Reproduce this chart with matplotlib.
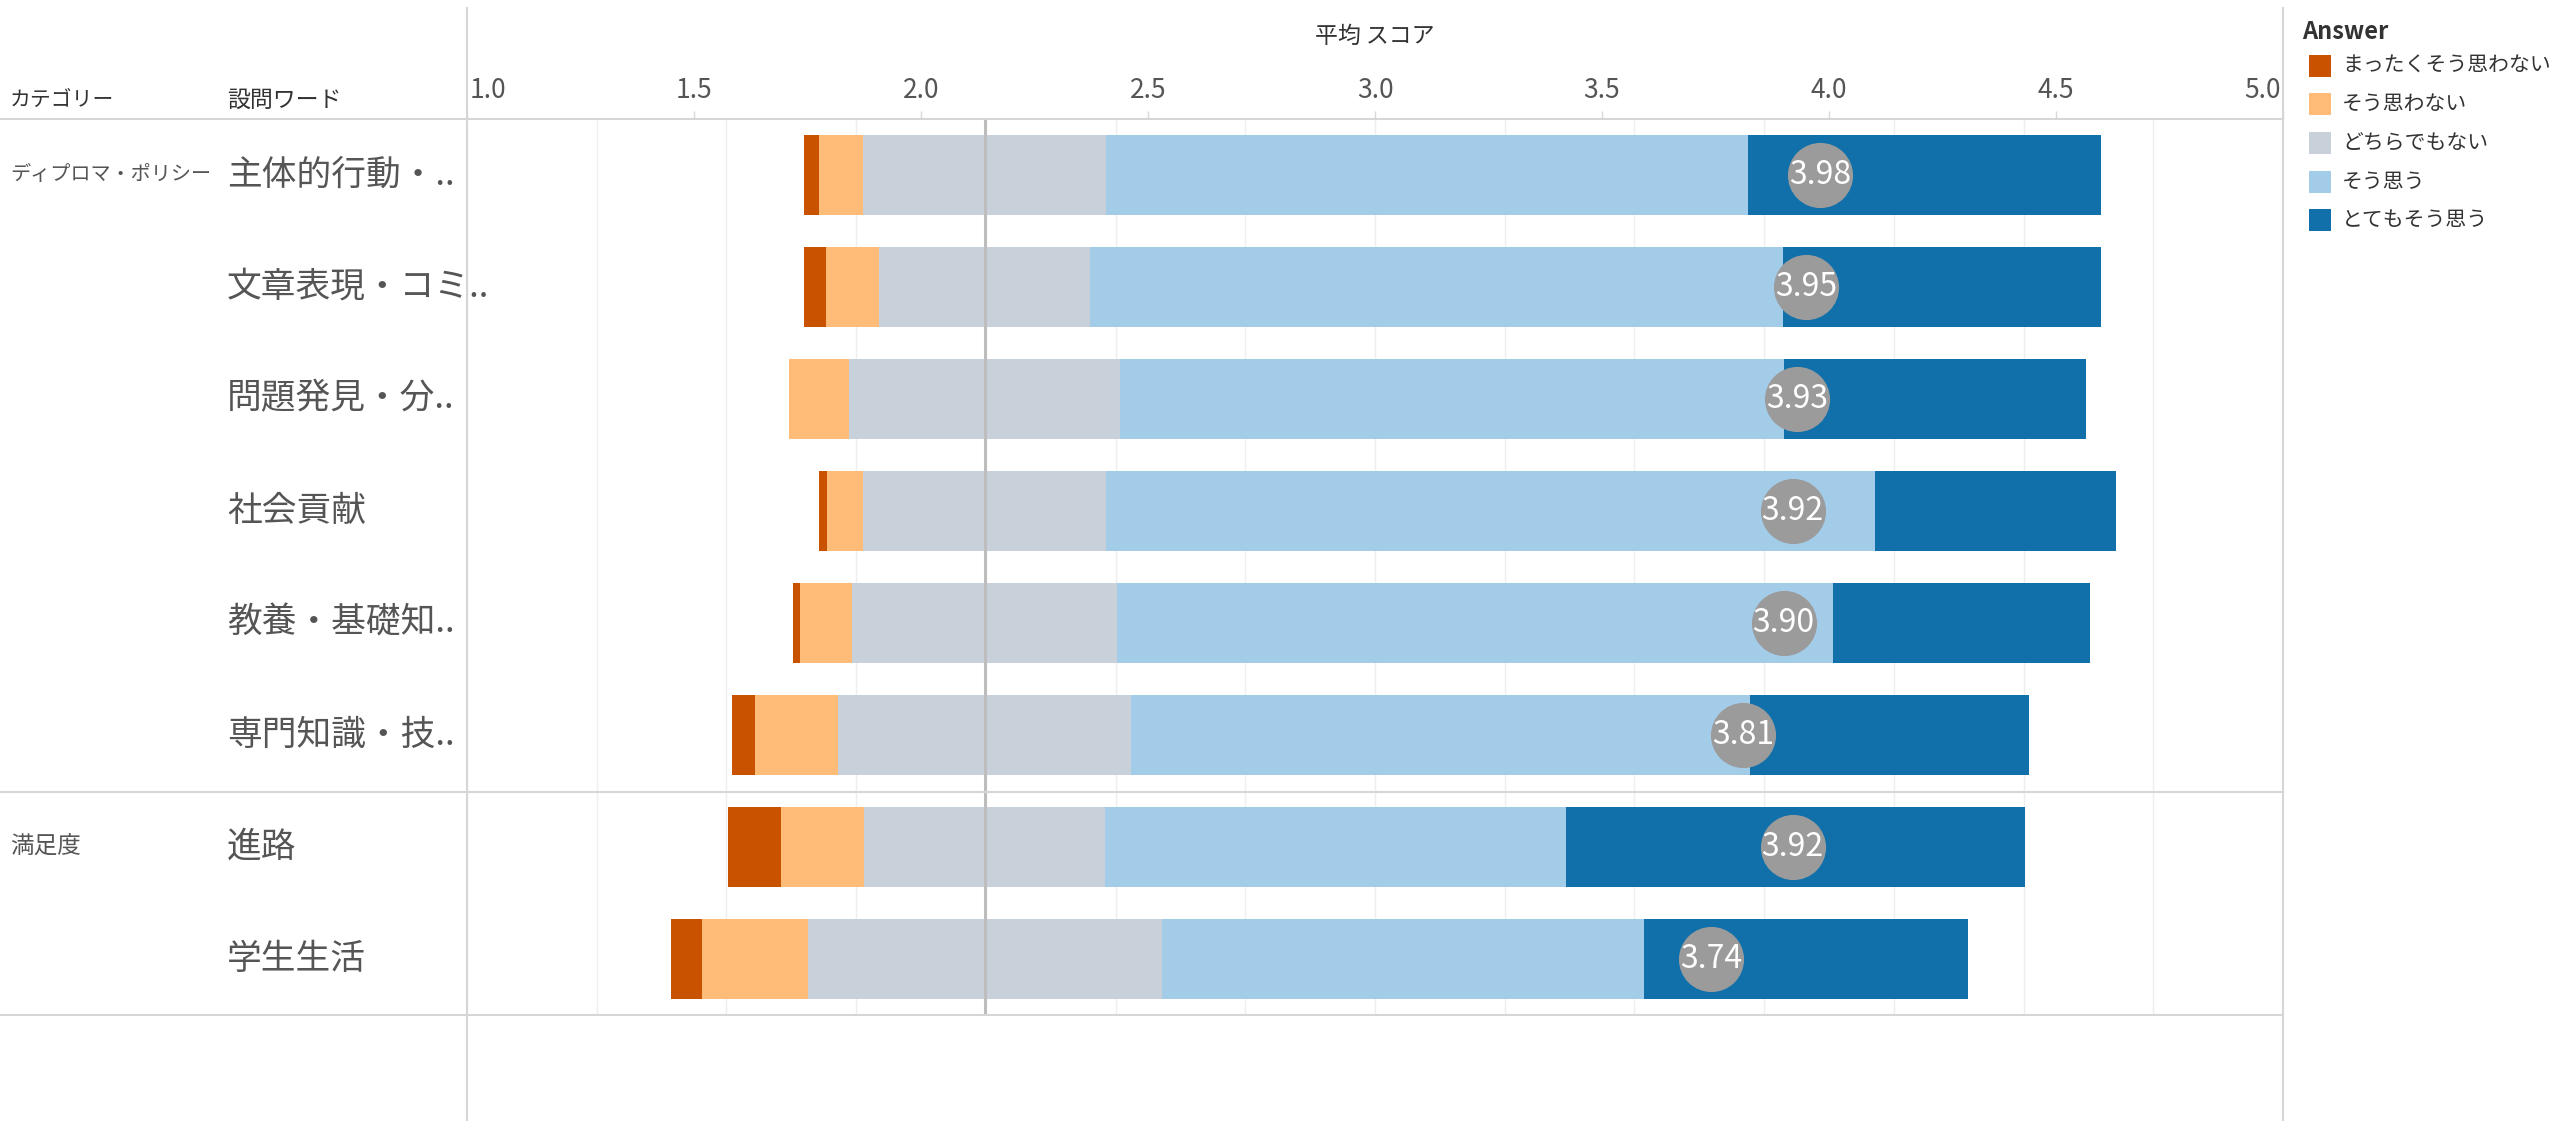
import numpy as np
from matplotlib import pyplot as plt
from matplotlib.lines import Line2D
from matplotlib.patches import Rectangle
from matplotlib.transforms import blended_transform_factory

plt.rcParams['font.family'] = ['Noto Sans CJK JP', 'DejaVu Sans']

# 回答カテゴリ (凡例の順)
answers = ['まったくそう思わない', 'そう思わない', 'どちらでもない', 'そう思う', 'とてもそう思う']
colors = ['#c85200', '#ffbc79', '#c8d0d9', '#a3cce9', '#1170aa']

# 行ラベル
categories = ['ディプロマ・ポリシー', '満足度']
category_rows = [0, 6]
questions = ['主体的行動・..', '文章表現・コミ..', '問題発見・分..', '社会貢献',
             '教養・基礎知..', '専門知識・技..', '進路', '学生生活']

# 各回答の割合 (%)
p_strong_no = [1.2, 1.7, 0.0, 0.6, 0.6, 1.8, 4.1, 2.4]
p_no = [3.4, 4.1, 4.6, 2.8, 4.0, 6.4, 6.4, 8.1]
p_neutral = [18.7, 16.3, 20.9, 18.7, 20.4, 22.6, 18.6, 27.3]
p_yes = [49.5, 53.4, 51.2, 59.3, 55.2, 47.7, 35.5, 37.2]
p_strong_yes = [27.2, 24.5, 23.3, 18.6, 19.8, 21.5, 35.4, 25.0]

# 平均スコア
means = [3.98, 3.95, 3.93, 3.92, 3.90, 3.81, 3.92, 3.74]

ref_value = 2.14          # どちらでもない の中心
pct_to_axis = 20 / 7 / 100  # 100% = バー全体の長さ

W, H = 2560, 1121
fig = plt.figure(figsize=(W / 100, H / 100), dpi=100)


def fx(px):
    return px / W


def fy(py):
    return 1 - py / H


ax_left, ax_right, ax_top, ax_bottom = 467, 2283, 119, 1015
ax = fig.add_axes([fx(ax_left), fy(ax_bottom), fx(ax_right) - fx(ax_left), (ax_bottom - ax_top) / H])
ax.set_xlim(1, 5)
ax.set_ylim(len(questions) - 0.5, -0.5)
for s in ax.spines.values():
    s.set_visible(False)
ax.set_yticks([])

y = np.arange(len(questions))
shares = np.array([p_strong_no, p_no, p_neutral, p_yes, p_strong_yes])
widths = shares * pct_to_axis
lefts = ref_value - widths[0] - widths[1] - widths[2] / 2

# グリッド線 (10%刻み)
for gx in np.linspace(1, 5, 15):
    ax.axvline(gx, color='#eeeeee', lw=1, zorder=0)

for j in range(len(answers)):
    ax.barh(y, widths[j], left=lefts, height=0.71, color=colors[j], zorder=2, label=answers[j])
    lefts = lefts + widths[j]

ax.axvline(ref_value, color='#bdbdbd', lw=2.2, zorder=3)

ax.scatter(means, y, s=2200, color='#9b9b9b', zorder=4, linewidths=0)
for m, yy in zip(means, y):
    ax.text(m, yy, '%.2f' % m, color='white', ha='center', va='center', fontsize=23, zorder=5)

# 上部の軸
ticks = np.arange(1, 5.01, 0.5)
ax.set_xticks(ticks)
ax.tick_params(axis='x', top=True, bottom=False, labeltop=False, labelbottom=False,
               length=5.5, width=1, color='#d9d9d9', direction='out')
tb = blended_transform_factory(ax.transData, fig.transFigure)
for i, t in enumerate(ticks):
    ha, pos = 'center', t
    if i == 0:
        ha, pos = 'left', t + 0.006
    elif i == len(ticks) - 1:
        ha, pos = 'right', t - 0.004
    ax.text(pos, fy(91), '%.1f' % t, transform=tb,
            ha=ha, va='center', fontsize=19, color='#555555')
fig.text(fx((ax_left + ax_right) / 2), fy(36), '平均 スコア', ha='center', va='center',
         fontsize=16.5, color='#333333')

# 枠線
line_c = '#d6d6d6'
for py in [ax_top, 792, ax_bottom]:
    fig.add_artist(Line2D([0, fx(ax_right)], [fy(py), fy(py)], color=line_c, lw=1.5))
for px in [ax_left, ax_right]:
    fig.add_artist(Line2D([fx(px), fx(px)], [fy(8), 0], color=line_c, lw=1.5))

# 行ヘッダ
fig.text(fx(10), fy(100), 'カテゴリー', ha='left', va='center', fontsize=15, color='#333333')
fig.text(fx(227), fy(100), '設問ワード', ha='left', va='center', fontsize=16.5, color='#333333')
ty = blended_transform_factory(fig.transFigure, ax.transData)
for c, r in zip(categories, category_rows):
    ax.text(fx(10), r, c, transform=ty, ha='left', va='center',
            fontsize=14.5 if len(c) > 5 else 17, color='#555555')
for q, yy in zip(questions, y):
    ax.text(fx(227), yy, q, transform=ty, ha='left', va='center', fontsize=25, color='#555555')

# 凡例
fig.text(fx(2302), fy(32), 'Answer', ha='left', va='center', fontsize=17, fontweight='bold',
         color='#333333')
leg_y = [66, 104, 143, 182, 220]
for a, c, ly in zip(answers, colors, leg_y):
    fig.add_artist(Rectangle((fx(2309), fy(ly + 11)), 22 / W, 22 / H, transform=fig.transFigure,
                             facecolor=c, edgecolor='none'))
    fig.text(fx(2342), fy(ly), a, ha='left', va='center', fontsize=15, color='#333333')

plt.savefig('out.png', dpi=100, facecolor='white')
